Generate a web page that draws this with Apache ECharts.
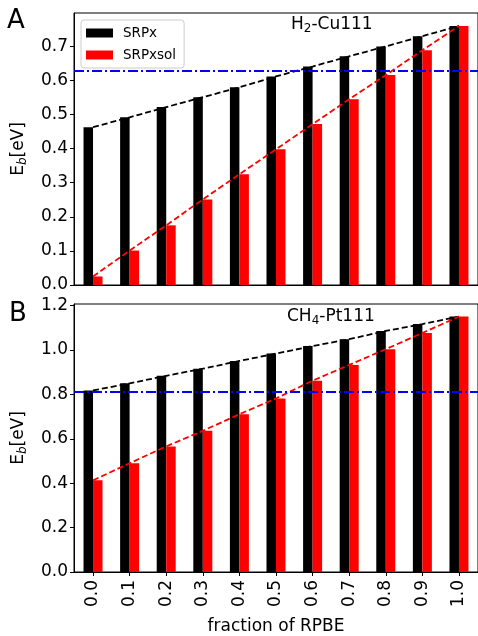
<!DOCTYPE html>
<html>
<head>
<meta charset="utf-8">
<script src="https://cdn.jsdelivr.net/npm/echarts@6/dist/echarts.min.js"></script>
<style>
html,body{margin:0;padding:0;background:#fff;}
#c{width:478px;height:636px;}
</style>
</head>
<body>
<div id="c"></div>
<script>
// ---- data ----
const categories = ['0.0','0.1','0.2','0.3','0.4','0.5','0.6','0.7','0.8','0.9','1.0'];
const srpxA    = [0.463, 0.492, 0.522, 0.551, 0.580, 0.612, 0.641, 0.671, 0.700, 0.730, 0.760];
const srpxsolA = [0.025, 0.101, 0.175, 0.251, 0.325, 0.398, 0.472, 0.545, 0.616, 0.689, 0.760];
const refA = 0.627;
const srpxB    = [0.818, 0.850, 0.884, 0.916, 0.951, 0.984, 1.018, 1.049, 1.086, 1.117, 1.151];
const srpxsolB = [0.413, 0.490, 0.566, 0.636, 0.711, 0.782, 0.862, 0.933, 1.004, 1.077, 1.151];
const refB = 0.813;

const FONT = 'DejaVu Sans';
const idx = categories.map((c, i) => i);
const pairs = arr => arr.map((v, i) => [idx[i], v]);

function xAxisCfg(gridIndex, showLabels) {
  return {
    type: 'value', gridIndex, min: -0.52, max: 10.52,
    splitLine: {show: false},
    axisLine: {show: true, onZero: false, lineStyle: {color: '#000', width: 1}},
    axisTick: {show: showLabels, length: 4, lineStyle: {color: '#000'}, customValues: idx},
    axisLabel: {
      show: showLabels, customValues: idx, rotate: 90, margin: 8,
      fontFamily: FONT, fontSize: 17, color: '#000',
      formatter: v => categories[Math.round(v)]
    },
    name: showLabels ? 'fraction of RPBE' : '',
    nameLocation: 'middle', nameGap: 46,
    nameTextStyle: {fontFamily: FONT, fontSize: 17, color: '#000'}
  };
}
function yAxisCfg(gridIndex, max, interval) {
  return {
    type: 'value', gridIndex, min: 0, max, interval,
    splitLine: {show: false},
    axisLine: {show: true, onZero: false, lineStyle: {color: '#000', width: 1}},
    axisTick: {show: true, length: 4, lineStyle: {color: '#000'}},
    axisLabel: {
      showMaxLabel: false, margin: 6,
      fontFamily: FONT, fontSize: 17, color: '#000',
      formatter: v => v.toFixed(1)
    },
    name: 'E{s|b}[eV]', nameLocation: 'middle', nameRotate: 90, nameGap: 45,
    nameTextStyle: {
      fontFamily: FONT, fontSize: 17, color: '#000',
      rich: {s: {fontFamily: FONT, fontSize: 12, fontStyle: 'italic', color: '#000', padding: [9, 0, 0, 0]}}
    }
  };
}
function dashLine(name, data, color, xi) {
  return {
    name, type: 'line', xAxisIndex: xi, yAxisIndex: xi, data,
    showSymbol: false, symbol: 'none', silent: true, z: 5,
    lineStyle: {color, width: 1.8, type: [6, 3]}
  };
}
function bars(name, data, color, xi, withRef, refVal) {
  const s = {
    name, type: 'bar', xAxisIndex: xi, yAxisIndex: xi, data,
    barWidth: 9.5, barGap: '0%', itemStyle: {color}, z: 2
  };
  if (withRef) {
    s.markLine = {
      silent: true, symbol: 'none', label: {show: false}, z: 6,
      lineStyle: {color: '#0000ff', width: 2.2, type: [10, 3, 2, 3]},
      data: [{yAxis: refVal}]
    };
  }
  return s;
}
function titleCfg(text, left, top) {
  return {
    text, left, top, padding: 0,
    textStyle: {
      fontFamily: FONT, fontSize: 17, fontWeight: 'normal', color: '#000',
      rich: {
        n: {fontFamily: FONT, fontSize: 17, color: '#000'},
        s: {fontFamily: FONT, fontSize: 12, color: '#000', padding: [8, 0, 0, 0]}
      }
    }
  };
}

const chart = echarts.init(document.getElementById('c'), null, {renderer: 'canvas'});
chart.setOption({
  animation: false,
  backgroundColor: '#fff',
  title: [
    {text: 'A', left: 7, top: 8, padding: 0, textStyle: {fontFamily: FONT, fontSize: 26, fontWeight: 'normal', color: '#000'}},
    {text: 'B', left: 9, top: 301, padding: 0, textStyle: {fontFamily: FONT, fontSize: 26, fontWeight: 'normal', color: '#000'}},
    titleCfg('{n|H}{s|2}{n|-Cu111}', 291, 15),
    titleCfg('{n|CH}{s|4}{n|-Pt111}', 287, 307)
  ],
  grid: [
    {left: 74, top: 13, width: 411, height: 272, show: true, borderColor: '#000', borderWidth: 1, backgroundColor: 'transparent'},
    {left: 74, top: 304, width: 411, height: 271, show: true, borderColor: '#000', borderWidth: 1, backgroundColor: 'transparent'}
  ],
  xAxis: [xAxisCfg(0, false), xAxisCfg(1, true)],
  yAxis: [yAxisCfg(0, 0.798, 0.1), yAxisCfg(1, 1.2075, 0.2)],
  legend: {
    data: ['SRPx', 'SRPxsol'], orient: 'vertical', left: 81, top: 20,
    itemWidth: 27, itemHeight: 9, itemGap: 8, icon: 'rect',
    padding: [6, 8, 6, 5],
    borderColor: '#cccccc', borderWidth: 1, borderRadius: 3, backgroundColor: 'rgba(255,255,255,0.8)',
    textStyle: {fontFamily: FONT, fontSize: 13.5, color: '#000', padding: [0, 0, 0, 5]}
  },
  series: [
    bars('SRPx', pairs(srpxA), '#000000', 0, true, refA),
    bars('SRPxsol', pairs(srpxsolA), '#ff0000', 0, false),
    dashLine('fitA1', pairs(srpxA), '#000000', 0),
    dashLine('fitA2', pairs(srpxsolA), '#ff0000', 0),
    bars('SRPx', pairs(srpxB), '#000000', 1, true, refB),
    bars('SRPxsol', pairs(srpxsolB), '#ff0000', 1, false),
    dashLine('fitB1', pairs(srpxB), '#000000', 1),
    dashLine('fitB2', pairs(srpxsolB), '#ff0000', 1)
  ]
});
</script>
</body>
</html>
